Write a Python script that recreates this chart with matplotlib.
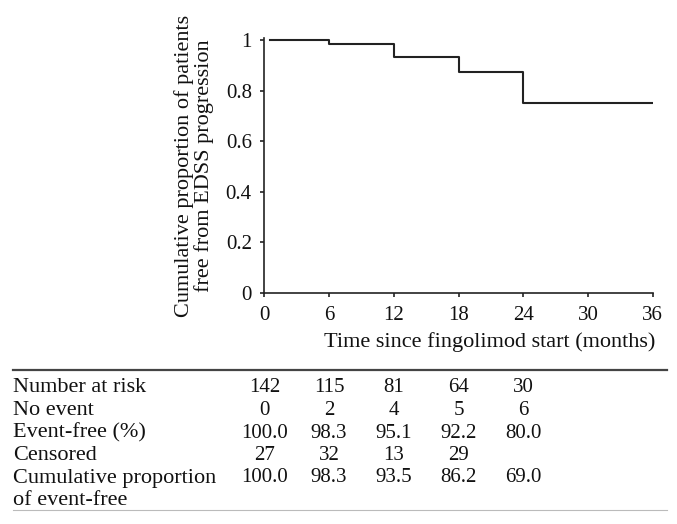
import matplotlib
matplotlib.use("Agg")
import matplotlib.pyplot as plt
from matplotlib.transforms import blended_transform_factory
from matplotlib.lines import Line2D

# Kaplan-Meier curve
step_times = [0.5, 6, 12, 18, 24, 36]
step_surv = [1.0, 0.983, 0.933, 0.873, 0.752, 0.752]

x_ticks = [0, 6, 12, 18, 24, 30, 36]
y_ticks = [0, 0.2, 0.4, 0.6, 0.8, 1.0]
y_ticklabels = ["0", "0.2", "0.4", "0.6", "0.8", "1"]

# risk table
table_times = [0, 6, 12, 18, 24]
row_labels = ["Number at risk", "No event", "Event-free (%)", "Censored",
              "Cumulative proportion\nof event-free"]
at_risk = ["142", "115", "81", "64", "30"]
no_event = ["0", "2", "4", "5", "6"]
event_free = ["100.0", "98.3", "95.1", "92.2", "80.0"]
censored = ["27", "32", "13", "29", ""]
cum_event_free = ["100.0", "98.3", "93.5", "86.2", "69.0"]
table_rows = [at_risk, no_event, event_free, censored, cum_event_free]

W, H = 677, 524
FS_TXT = 16   # word labels
FS_NUM = 15   # digits
INK = "#111111"
plt.rcParams["font.family"] = ["Liberation Serif", "DejaVu Serif"]
plt.rcParams["font.size"] = FS_TXT

# axis 0 at y=292.7 px, 1 at y=40 px; spine runs a little above 1
fig = plt.figure(figsize=(W / 100, H / 100), dpi=100)
ax = fig.add_axes([264.3 / W, 1 - 292.7 / H, (652.7 - 264.3) / W, (292.7 - 38) / H])

ax.step(step_times, step_surv, where="post", color="#222222", lw=1.5)

ax.set_xlim(0, 36)
ax.set_ylim(0, (292.7 - 38) / (292.7 - 40))
ax.set_xticks(x_ticks)
ax.set_yticks(y_ticks)
ax.set_yticklabels(y_ticklabels)
for s in ["top", "right"]:
    ax.spines[s].set_visible(False)
for s in ["left", "bottom"]:
    ax.spines[s].set_color("#222222")
    ax.spines[s].set_linewidth(1.2)
ax.tick_params(axis="both", direction="out", length=3, width=1.2,
               color="#222222", labelsize=FS_NUM, labelcolor=INK)
ax.tick_params(axis="x", pad=6.5)
ax.tick_params(axis="y", pad=6)

fig.text(194 / W, 1 - 166 / H,
         "Cumulative proportion of patients\nfree from EDSS progression",
         rotation=90, ha="center", va="center", multialignment="center",
         linespacing=1.05, color=INK)
fig.text(655 / W, 1 - 347 / H, "Time since fingolimod start (months)",
         ha="right", va="baseline", color=INK)

# table rules
fig.add_artist(Line2D([13 / W, 667 / W], [1 - 370 / H, 1 - 370 / H],
                      color="#444444", lw=1.6))
fig.add_artist(Line2D([13 / W, 667 / W], [1 - 510 / H, 1 - 510 / H],
                      color="#bbbbbb", lw=0.8))

row_base = [392, 415, 437.5, 460, 482.5]
line_step = 22.5
trans = blended_transform_factory(ax.transData, fig.transFigure)
for lab, vals, yb in zip(row_labels, table_rows, row_base):
    for k, part in enumerate(lab.split("\n")):
        fig.text(13 / W, 1 - (yb + k * line_step) / H, part,
                 ha="left", va="baseline", color=INK)
    for t, v in zip(table_times, vals):
        ax.text(t, 1 - yb / H, v, transform=trans, ha="center",
                va="baseline", fontsize=FS_NUM, clip_on=False, color=INK)

fig.savefig("out.png", dpi=100)
